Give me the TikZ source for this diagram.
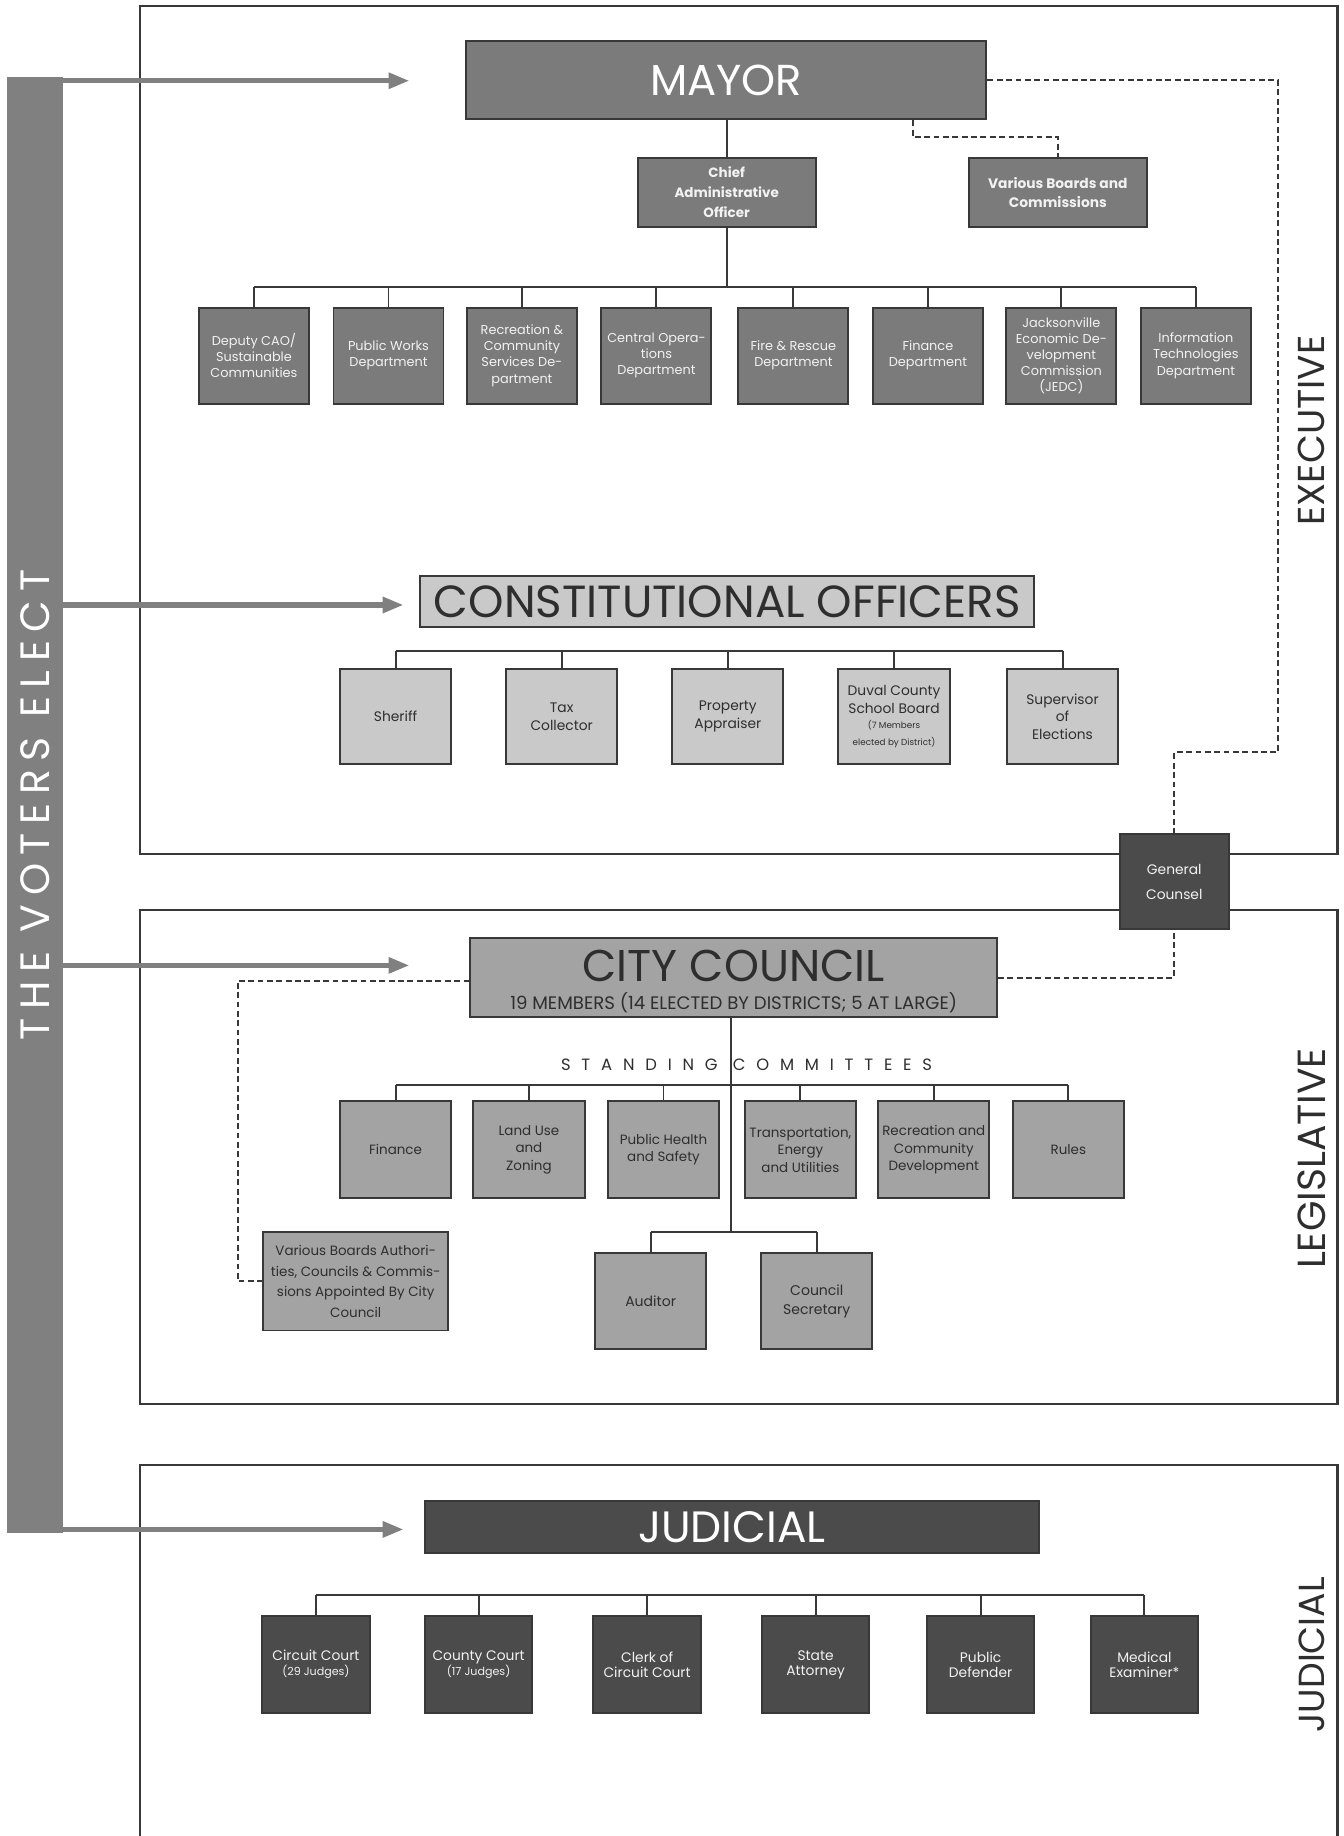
\documentclass[tikz,border=0pt]{standalone}
\usepackage{fontspec}
\setmainfont{Poppins}
\usetikzlibrary{arrows.meta}
\definecolor{execfill}{HTML}{7B7B7B}
\definecolor{cofill}{HTML}{C9C9C9}
\definecolor{legfill}{HTML}{A3A3A3}
\definecolor{judfill}{HTML}{4B4B4B}
\definecolor{edgecol}{HTML}{383838}
\definecolor{arrcol}{HTML}{808080}
\definecolor{lighttext}{HTML}{F2F2F2}
\definecolor{darktext}{HTML}{2E2E2E}
\begin{document}
\begin{tikzpicture}[x=1pt,y=-1pt,
  box/.style={draw=edgecol, line width=1.7pt, align=center, inner sep=1pt,
    minimum width=94pt, minimum height=82pt, font=\fontsize{11}{13.7}\selectfont},
  xbox/.style={box, fill=execfill, text=lighttext},
  cbox/.style={box, fill=cofill, text=darktext, minimum width=95pt, minimum height=81pt,
    font=\fontsize{11.8}{15}\selectfont},
  lbox/.style={box, fill=legfill, text=darktext, minimum width=95pt, minimum height=83pt,
    font=\fontsize{11.5}{15}\selectfont},
  jbox/.style={box, fill=judfill, text=lighttext, minimum width=92pt, minimum height=83pt,
    font=\fontsize{11.8}{13}\selectfont},
  link/.style={draw=edgecol, line width=1.7pt},
  dlink/.style={draw=edgecol, line width=1.7pt, dash pattern=on 5pt off 3pt},
  vote/.style={draw=arrcol, line width=4.5pt, -{Triangle[length=18pt,width=13pt]}},
  frame/.style={draw=edgecol, line width=1.8pt},
  sidelabel/.style={rotate=90, text=darktext, font=\fontsize{32}{32}\selectfont}
]
\useasboundingbox (0,0) rectangle (1148,1569);

% frames
\draw[frame] (120,5) rectangle (1143,730);
\draw[frame] (120,778) rectangle (1143,1200);
\draw[frame] (120,1580) -- (120,1252) -- (1143,1252) -- (1143,1580);

% side labels
\node[sidelabel] (lexec) at (1121,368) {EXECUTIVE};
\node[sidelabel, font=\fontsize{33.5}{33}\selectfont] (lleg) at (1121,990) {LEGISLATIVE};
\node[sidelabel, font=\fontsize{31}{31}\selectfont] (ljud) at (1121,1414) {JUDICIAL};

% voters bar
\node[fill=arrcol, minimum width=48pt, minimum height=1244pt, inner sep=0pt] (voters) at (30,688) {};
\node[rotate=90, text=white, font=\fontsize{35}{35}\selectfont\addfontfeature{LetterSpace=21}] (voterstext) at (30,688) {THE VOTERS ELECT};

% ===== Executive =====
\node[draw=edgecol, line width=1.7pt, fill=execfill, text=white, minimum width=445pt, minimum height=67pt,
  font=\fontsize{37}{37}\selectfont] (mayor) at (620.5,68.5) {MAYOR};
\node[xbox, minimum width=152pt, minimum height=59pt, font=\fontsize{11.5}{17}\selectfont\bfseries] (cao) at (621,164.5)
  {Chief\\Administrative\\Officer};
\node[xbox, minimum width=152pt, minimum height=59pt, font=\fontsize{11.8}{16}\selectfont\bfseries] (boards) at (904,164.5)
  {Various Boards and\\Commissions};

\node[xbox] (d1) at (217,304) {Deputy CAO/\\Sustainable\\Communities};
\node[xbox] (d2) at (332,304) {Public Works\\Department};
\node[xbox] (d3) at (446,304) {Recreation \&\\Community\\Services De-\\partment};
\node[xbox] (d4) at (561,304) {Central Opera-\\tions\\Department};
\node[xbox] (d5) at (678,304) {Fire \& Rescue\\Department};
\node[xbox] (d6) at (793,304) {Finance\\Department};
\node[xbox] (d7) at (907,304) {Jacksonville\\Economic De-\\velopment\\Commission\\(JEDC)};
\node[xbox] (d8) at (1022,304) {Information\\Technologies\\Department};

\coordinate (db) at (621,245);
\draw[link] (mayor.south -| cao.north) -- (cao.north);
\draw[link] (cao.south) -- (cao.south |- db);
\draw[link] (db -| d1.north) -- (db -| d8.north);
\foreach \d in {d1,d2,d3,d4,d5,d6,d7,d8} \draw[link] (db -| \d.north) -- (\d.north);

\coordinate (mb) at (780,117);
\draw[dlink] (mayor.south -| mb) -- (mb) -| (boards.north);

% constitutional officers
\node[draw=edgecol, line width=1.7pt, fill=cofill, text=darktext, minimum width=525pt, minimum height=44pt,
  font=\fontsize{38.5}{38}\selectfont] (co) at (621.5,514) {CONSTITUTIONAL OFFICERS};
\node[cbox] (o1) at (338,612.5) {Sheriff};
\node[cbox] (o2) at (480,612.5) {Tax\\Collector};
\node[cbox] (o3) at (622,612.5) {Property\\Appraiser};
\node[cbox] (o4) at (764,612.5) {Duval County\\School Board\\[-2pt]\fontsize{7.5}{8}\selectfont (7 Members\\\fontsize{7.5}{8}\selectfont elected by District)};
\node[cbox] (o5) at (908,612.5) {Supervisor\\of\\Elections};
\coordinate (cb) at (621,556);
\draw[link] (cb -| o1.north) -- (cb -| o5.north);
\foreach \d in {o1,o2,o3,o4,o5} \draw[link] (cb -| \d.north) -- (\d.north);

% general counsel
\node[box, fill=judfill, text=lighttext, minimum width=93pt, minimum height=81pt,
  font=\fontsize{11.8}{21}\selectfont] (gc) at (1003.5,753.5) {General\\Counsel};
\coordinate (gcturn) at (1092,643);
\draw[dlink] (mayor.east) -| (gcturn) -| (gc.north);

% ===== Legislative =====
\node[draw=edgecol, line width=1.7pt, fill=legfill, minimum width=450pt, minimum height=67pt] (cc) at (627,835.5) {};
\node[anchor=base, text=darktext, inner sep=0pt, font=\fontsize{38}{38}\selectfont] (cctitle) at (627,839) {CITY COUNCIL};
\node[anchor=base, text=darktext, inner sep=0pt, font=\fontsize{15.5}{16}\selectfont] (ccsub) at (627,863)
  {19 MEMBERS (14 ELECTED BY DISTRICTS; 5 AT LARGE)};
\draw[dlink] (cc.east) -| (gc.south);

\node[text=darktext, font=\fontsize{14}{14}\selectfont\addfontfeature{LetterSpace=66}] (stand) at (638,910)
  {STANDING COMMITTEES};

\node[lbox] (c1) at (338,982.5) {Finance};
\node[lbox] (c2) at (452,982.5) {Land Use\\and\\Zoning};
\node[lbox] (c3) at (567,982.5) {Public Health\\and Safety};
\node[lbox] (c4) at (684,982.5) {Transportation,\\Energy\\and Utilities};
\node[lbox] (c5) at (798,982.5) {Recreation and\\Community\\Development};
\node[lbox] (c6) at (913,982.5) {Rules};

\node[lbox, minimum height=82pt, font=\fontsize{12}{16}\selectfont] (aud) at (556,1112) {Auditor};
\node[lbox, minimum height=82pt, font=\fontsize{12}{16}\selectfont] (sec) at (698,1112) {Council\\Secretary};
\node[lbox, minimum width=158pt, minimum height=84pt, font=\fontsize{11.5}{17.5}\selectfont] (vb) at (304,1095)
  {Various Boards Authori-\\ties, Councils \& Commis-\\sions Appointed By City\\Council};

\coordinate (cmb) at (625,927);
\coordinate (ab) at (625,1053);
\draw[link] (cc.south -| cmb) -- (ab);
\draw[link] (cmb -| c1.north) -- (cmb -| c6.north);
\foreach \d in {c1,c2,c3,c4,c5,c6} \draw[link] (cmb -| \d.north) -- (\d.north);
\draw[link] (ab -| aud.north) -- (ab -| sec.north);
\foreach \d in {aud,sec} \draw[link] (ab -| \d.north) -- (\d.north);

\coordinate (vbturn) at (203,838);
\draw[dlink] (cc.west |- vbturn) -- (vbturn) |- (vb.west);

% ===== Judicial =====
\node[draw=edgecol, line width=1.7pt, fill=judfill, text=white, minimum width=525pt, minimum height=44pt,
  font=\fontsize{37.5}{37}\selectfont] (jud) at (625.5,1305) {JUDICIAL};
\node[jbox] (j1) at (270,1422.5) {Circuit Court\\\fontsize{9.5}{10}\selectfont (29 Judges)};
\node[jbox] (j2) at (409,1422.5) {County Court\\\fontsize{9.5}{10}\selectfont (17 Judges)};
\node[jbox] (j3) at (553,1422.5) {Clerk of\\Circuit Court};
\node[jbox] (j4) at (697,1422.5) {State\\Attorney};
\node[jbox] (j5) at (838,1422.5) {Public\\Defender};
\node[jbox] (j6) at (978,1422.5) {Medical\\Examiner*};
\coordinate (jb) at (625,1363);
\draw[link] (jb -| j1.north) -- (jb -| j6.north);
\foreach \d in {j1,j2,j3,j4,j5,j6} \draw[link] (jb -| \d.north) -- (\d.north);

% voters arrows
\coordinate (amayor) at (350,69);
\coordinate (aco) at (345,517);
\coordinate (acc) at (350,825);
\coordinate (ajud) at (345,1307);
\foreach \a in {amayor,aco,acc,ajud} \draw[vote] (voters.east |- \a) -- (\a);
\end{tikzpicture}
\end{document}
